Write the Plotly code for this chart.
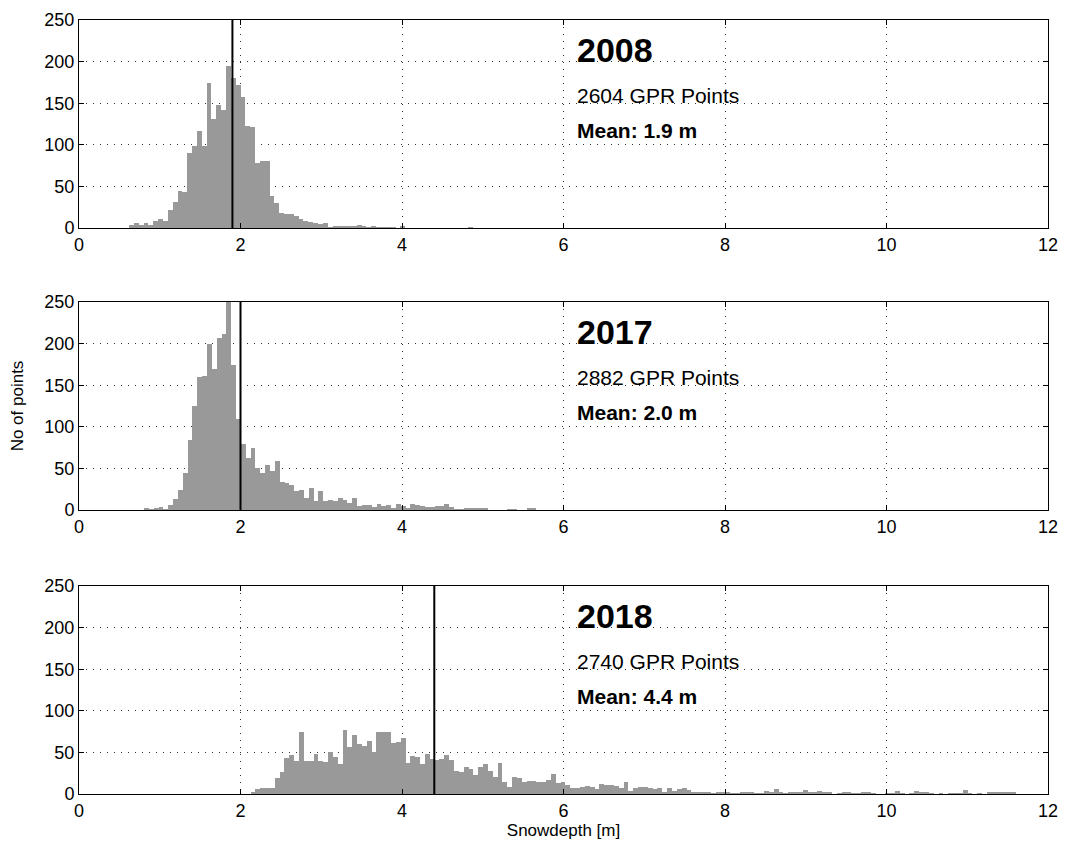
import plotly.graph_objects as go

# ---------------- data ----------------
BIN_WIDTH = 0.06
YEARS = ["2008", "2017", "2018"]
N_POINTS = [2604, 2882, 2740]
MEANS = [1.9, 2.0, 4.4]
BIN_START = [0.62, 0.805, 2.124]

counts_2008 = [4, 6, 4, 6, 4, 9, 11, 9, 22, 31, 45, 43, 90, 98, 117, 98, 174, 131, 148, 142, 195,
               180, 172, 158, 123, 122, 78, 81, 81, 39, 30, 18, 17, 17, 15, 11, 8, 7, 6, 5, 6,
               1, 3, 2, 2, 3, 3, 4, 2, 1, 2, 1, 1, 1, 1, 0, 2,
               0, 0, 0, 0, 0, 0, 0, 0, 0, 0, 0, 0, 0, 1]

counts_2017 = [3, 1, 3, 4, 1, 6, 13, 24, 45, 84, 125, 160, 161, 200, 169, 207, 211, 262, 174, 109,
               79, 63, 74, 50, 45, 54, 47, 59, 34, 32, 30, 23, 24, 15, 26, 11, 23, 11, 12, 11,
               14, 12, 8, 14, 5, 6, 6, 4, 7, 5, 6, 3, 7, 5, 3, 7, 6, 5, 4,
               4, 5, 5, 7, 4, 1, 1, 3, 2, 3, 3, 2, 0, 0, 0, 0, 1, 1, 0, 0, 2, 2]

counts_2018 = [3, 6, 7, 7, 7, 19, 27, 43, 47, 40, 75, 40, 40, 48, 40, 38, 51, 45, 36, 77,
               56, 71, 60, 58, 64, 51, 75, 75, 75, 61, 62, 67, 37, 46, 45, 36, 48, 42, 41, 42,
               47, 41, 28, 27, 33, 30, 23, 32, 36, 28, 20, 37,
               15, 8, 20, 19, 15, 16, 16, 14, 14, 17, 24, 13, 15, 11, 7, 7, 9, 10, 9, 6,
               12, 11, 11, 10, 7, 14, 4, 7, 9, 8, 7, 6, 7, 3, 7, 4, 6, 7, 5, 3,
               3, 2, 3, 1, 2, 2, 2, 1, 1, 2, 2, 3,
               1, 1, 4, 2, 6, 2, 1, 2, 2, 2, 5, 2, 3, 4, 3, 2, 0, 1, 3, 3,
               1, 1, 3, 2, 1, 0, 0, 1, 1, 4, 1, 0, 1, 4, 3, 2, 1, 0, 1, 0,
               1, 1, 1, 5, 1, 0, 1, 0, 2, 2, 3, 2, 3, 2]

COUNTS = [counts_2008, counts_2017, counts_2018]

X_TICKS = [0, 2, 4, 6, 8, 10, 12]
Y_TICKS = [0, 50, 100, 150, 200, 250]
X_RANGE = [0, 12]
Y_RANGE = [0, 250]

# ---------------- figure ----------------
FONT = "Liberation Sans"
OFF = 8                      # page body margin of the html page
W, H = 1066 - OFF, 842 - OFF
ML, MR, MT, MB = 79 - OFF, 18, 20 - OFF, 48
plot_h = H - MT - MB
# pixel rows of each panel in the window (top, bottom)
panel_px = [(20, 228), (302, 510), (586, 794)]
bottom_px = 842 - MB
domains = [[(bottom_px - b) / plot_h, (bottom_px - t) / plot_h] for t, b in panel_px]

fig = go.Figure()

for i in range(3):
    xa = "x" if i == 0 else f"x{i+1}"
    ya = "y" if i == 0 else f"y{i+1}"
    centers = [BIN_START[i] + (k + 0.5) * BIN_WIDTH for k in range(len(COUNTS[i]))]
    fig.add_trace(go.Bar(x=centers, y=COUNTS[i], width=BIN_WIDTH,
                         marker=dict(color="#999999", line=dict(width=0)),
                         xaxis=xa, yaxis=ya, showlegend=False, hoverinfo="x+y"))
    fig.add_trace(go.Scatter(x=[MEANS[i], MEANS[i]], y=Y_RANGE, mode="lines",
                             line=dict(color="black", width=2),
                             xaxis=xa, yaxis=ya, showlegend=False, hoverinfo="skip"))

    axis_common = dict(showline=True, linecolor="black", linewidth=1, mirror="ticks",
                       ticks="inside", ticklen=5, tickcolor="black", tickwidth=1,
                       showgrid=True, gridcolor="#333333", gridwidth=1, griddash="1px,6px",
                       zeroline=False, tickfont=dict(family=FONT, size=18, color="black"))
    xkey = "xaxis" if i == 0 else f"xaxis{i+1}"
    ykey = "yaxis" if i == 0 else f"yaxis{i+1}"
    xdict = dict(axis_common, range=X_RANGE, tickvals=X_TICKS, anchor=ya, domain=[0, 1])
    ydict = dict(axis_common, range=Y_RANGE, tickvals=Y_TICKS, anchor=xa, domain=domains[i])
    if i == 2:
        xdict["title"] = dict(text="Snowdepth [m]", font=dict(family=FONT, size=17, color="black"),
                              standoff=4)
    if i == 1:
        ydict["title"] = dict(text="No of points", font=dict(family=FONT, size=17, color="black"),
                              standoff=16)
    fig.update_layout(**{xkey: xdict, ykey: ydict})

    xr = "x" if i == 0 else f"x{i+1}"
    yr = "y" if i == 0 else f"y{i+1}"
    fig.add_annotation(x=6.14, y=214, xref=xr, yref=yr, text=f"<b>{YEARS[i]}</b>",
                       showarrow=False, xanchor="left", yanchor="middle",
                       font=dict(family=FONT, size=34, color="black"))
    fig.add_annotation(x=6.14, y=159, xref=xr, yref=yr, text=f"{N_POINTS[i]} GPR Points",
                       showarrow=False, xanchor="left", yanchor="middle",
                       font=dict(family=FONT, size=21, color="black"))
    fig.add_annotation(x=6.14, y=117, xref=xr, yref=yr, text=f"<b>Mean: {MEANS[i]:.1f} m</b>",
                       showarrow=False, xanchor="left", yanchor="middle",
                       font=dict(family=FONT, size=21, color="black"))

fig.update_layout(width=W, height=H, margin=dict(l=ML, r=MR, t=MT, b=MB, autoexpand=False),
                  paper_bgcolor="white", plot_bgcolor="white", bargap=0,
                  font=dict(family=FONT, color="black"))

fig.write_html("out.html")
